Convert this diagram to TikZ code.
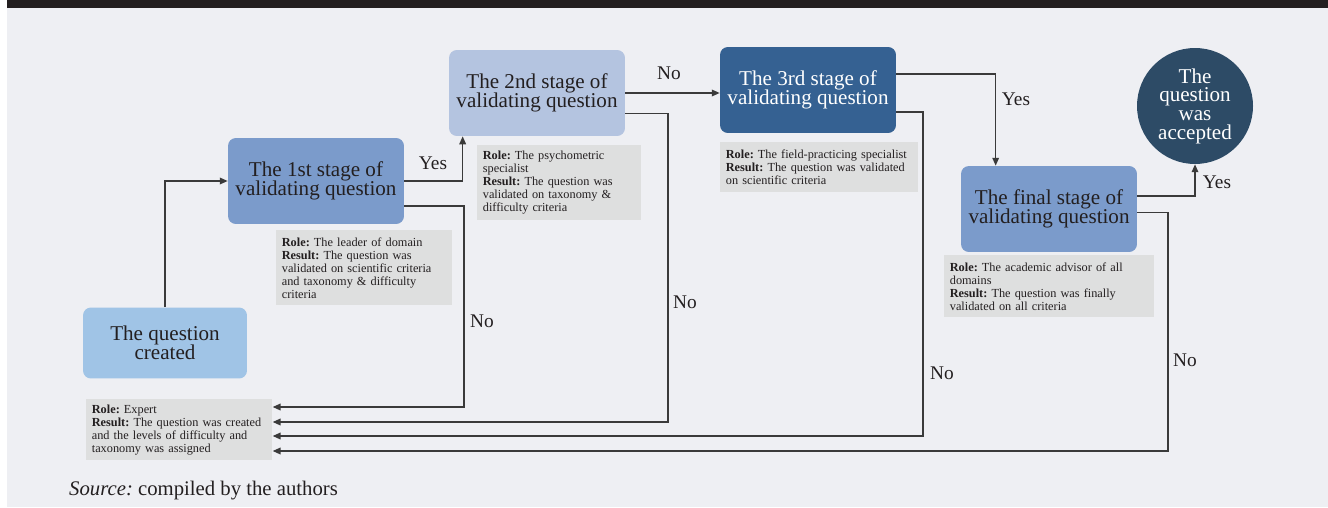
\documentclass[tikz,border=0pt]{standalone}
\usepackage{fontspec}
\setmainfont{Liberation Serif}
\usepackage{xcolor}
\usetikzlibrary{positioning,arrows.meta,shapes.geometric}
\definecolor{pagebg}{RGB}{238,239,243}
\definecolor{barcol}{RGB}{35,31,32}
\definecolor{createdcol}{RGB}{160,196,230}
\definecolor{stagecol}{RGB}{123,155,203}
\definecolor{secondcol}{RGB}{180,196,224}
\definecolor{thirdcol}{RGB}{53,97,146}
\definecolor{acceptcol}{RGB}{45,75,102}
\definecolor{infocol}{RGB}{222,223,223}
\definecolor{linecol}{RGB}{58,58,58}
\definecolor{txtcol}{RGB}{35,31,32}
\frenchspacing

\begin{document}
\begin{tikzpicture}[x=0.02cm, y=-0.02cm,
  stagebox/.style={rounded corners=4.5pt, minimum width=3.52cm, minimum height=1.72cm,
                   font=\fontsize{12}{11}\selectfont, align=center, inner sep=2pt, text=txtcol},
  info/.style={anchor=north west, fill=infocol, font=\fontsize{7}{7.4}\selectfont,
               align=left, inner xsep=0.11cm, inner ysep=2pt, text=txtcol},
  arr/.style={-{Triangle[length=4.5pt,width=3.8pt]}, line width=0.7pt, linecol},
  lbl/.style={font=\fontsize{11}{11}\selectfont, text=txtcol},
]
\useasboundingbox (0,0) rectangle (1328,507);
% page background and top bar
\fill[pagebg] (7,8) rectangle (1328,507);
\fill[barcol] (7,0) rectangle (1328,8);

% --- stages ---
\node[stagebox, fill=createdcol, minimum width=3.28cm, minimum height=1.42cm] (n0) at (165,343) {The question\\created};
\node[stagebox, fill=stagecol]  (n1) at (316,181) {The 1st stage of\\validating question};
\node[stagebox, fill=secondcol] (n2) at (537,93)  {The 2nd stage of\\validating question};
\node[stagebox, fill=thirdcol, text=white] (n3) at (808,90) {The 3rd stage of\\validating question};
\node[stagebox, fill=stagecol]  (nf) at (1049,209) {The final stage of\\validating question};
\node[circle, fill=acceptcol, minimum size=2.32cm, inner sep=0pt, align=center,
      font=\fontsize{12}{10.6}\selectfont, text=white] (acc) at (1195,106) {The\\question\\was\\accepted};

% --- roles ---
\node[info, text width=3.5cm, minimum height=1.22cm] (ex) at (86,399)
  {\textbf{Role:} Expert\\\textbf{Result:} The question was created\\and the levels of difficulty and\\taxonomy was assigned};
\node[info, text width=3.3cm, minimum height=1.5cm] (i1) at (276,230)
  {\textbf{Role:} The leader of domain\\\textbf{Result:} The question was\\validated on scientific criteria\\and taxonomy \& difficulty\\criteria};
\node[info, text width=3.06cm, minimum height=1.5cm] (i2) at (477,145)
  {\textbf{Role:} The psychometric\\specialist\\\textbf{Result:} The question was\\validated on taxonomy \&\\difficulty criteria};
\node[info, text width=3.74cm, minimum height=1.0cm] (i3) at (720,142)
  {\textbf{Role:} The field-practicing specialist\\\textbf{Result:} The question was validated\\on scientific criteria};
\node[info, text width=3.98cm, minimum height=1.24cm] (i4) at (944,255)
  {\textbf{Role:} The academic advisor of all\\domains\\\textbf{Result:} The question was finally\\validated on all criteria};

% --- yes paths ---
\draw[arr] (n0.north) |- (n1.west);
\draw[arr] (n1.east) -| ([xshift=0.28cm]n2.south west);
\draw[arr] (n2.east) -- (n2.east -| n3.west);
\draw[arr] ([yshift=0.32cm]n3.east) -| ([xshift=0.7cm]nf.north west);
\draw[arr] ([yshift=0.26cm]nf.east) -| (acc.south);

% --- no paths back to the expert ---
\coordinate (b1) at (464,407);
\coordinate (b2) at (668,422);
\coordinate (b3) at (923,436);
\coordinate (b4) at (1168,451);
\draw[arr] ([yshift=-0.5cm]n1.east) -| (b1) -- (b1 -| ex.east);
\draw[arr] ([yshift=-0.41cm]n2.east) -| (b2) -- (b2 -| ex.east);
\draw[arr] ([yshift=-0.44cm]n3.east) -| (b3) -- (b3 -| ex.east);
\draw[arr] ([yshift=-0.07cm]nf.east) -| (b4) -- (b4 -| ex.east);

\node[lbl] (y1) at (433,163) {Yes};
\node[lbl] (y2) at (669,73)  {No};
\node[lbl] (y3) at (1016,99) {Yes};
\node[lbl] (y4) at (1217,182) {Yes};
\node[lbl] (o1) at (482,321) {No};
\node[lbl] (o2) at (685,302) {No};
\node[lbl] (o3) at (942,373) {No};
\node[lbl] (o4) at (1185,360) {No};

\node[lbl, anchor=west, font=\fontsize{11.8}{12}\selectfont] (src) at (63,491) {\textit{Source:} compiled by the authors};
\end{tikzpicture}
\end{document}
